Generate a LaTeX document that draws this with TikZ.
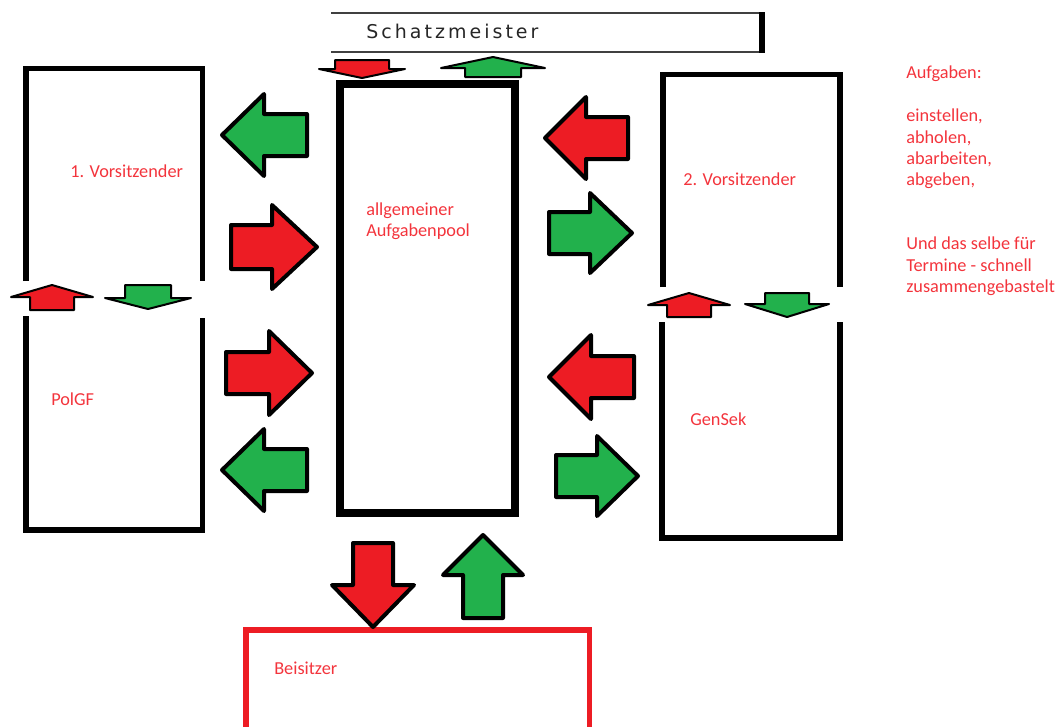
\documentclass[tikz,border=0pt]{standalone}
\usepackage{fontspec}
\usepackage{tikz}
\usepackage{xcolor}
\newfontfamily\calib{Carlito}
\newfontfamily\schatzfont[LetterSpace=16]{DejaVu Sans}
\definecolor{paintred}{RGB}{237,28,36}
\definecolor{paintgreen}{RGB}{34,177,76}
\definecolor{txtred}{RGB}{243,52,60}
\tikzstyle{boxline}=[line width=1.3mm]
\tikzstyle{lbl}=[inner sep=0pt,text=txtred,font=\calib\fontsize{13}{15.2}\selectfont]
\tikzstyle{bigarr}=[draw=black,line width=1mm,line join=round]
\tikzstyle{smallarr}=[draw=black,line width=0.5mm,line join=round]
\tikzset{
  pics/blockarrow/.style n args={4}{code={
    \path[pic actions] (0,0) -- (-#2,#3) -- (-#2,#4) -- (-#1,#4) -- (-#1,-#4)
      -- (-#2,-#4) -- (-#2,-#3) -- cycle;
  }}
}

\begin{document}
\begin{tikzpicture}[x=0.25mm,y=-0.25mm]
    \useasboundingbox (0,0) rectangle (1062,726);

    % Schatzmeister
    \draw[line width=0.35mm,draw=black!75] (331,13) -- (763,13);
    \draw[line width=0.35mm,draw=black!75] (331,52) -- (763,52);
    \draw[line width=1.4mm] (762,12) -- (762,53);
    \node[anchor=west,inner sep=0pt,text=black!85,font=\schatzfont\fontsize{13.5}{15}\selectfont] (schatz) at (366,31) {Schatzmeister};

    % boxes
    \draw[boxline] (26,281) -- (26,68.5) -- (202.5,68.5) -- (202.5,281);
    \draw[boxline] (26,316) -- (26,530) -- (202.5,530) -- (202.5,318);
    \draw[boxline] (663,287) -- (663,74.5) -- (840,74.5) -- (840,287);
    \draw[boxline] (662,322) -- (662,538) -- (840,538) -- (840,322);
    \draw[line width=1.8mm] (340,84) rectangle (515,513);
    \draw[boxline,draw=paintred] (246,730) -- (246,630) -- (589.5,630) -- (589.5,730);

    % labels
    \node[lbl,anchor=west] (vors1) at (70,171) {1. Vorsitzender};
    \node[lbl,anchor=west,align=left] (pool) at (366,221) {allgemeiner\\Aufgabenpool};
    \node[lbl,anchor=west] (vors2) at (683,179) {2. Vorsitzender};
    \node[lbl,anchor=west] (polgf) at (51,399) {PolGF};
    \node[lbl,anchor=west] (gensek) at (690,419) {GenSek};
    \node[lbl,anchor=west] (beisitzer) at (274,668) {Beisitzer};
    \node[lbl,anchor=north west,align=left] (notes) at (906,66) {Aufgaben:\\\mbox{}\\einstellen,\\abholen,\\abarbeiten,\\abgeben,\\\mbox{}\\\mbox{}\\Und das selbe für\\Termine - schnell\\zusammengebastelt};

    % big arrows left
    \path (222,135) pic[bigarr,fill=paintgreen,rotate=180] {blockarrow={85}{42}{41}{21}};
    \path (317,247) pic[bigarr,fill=paintred] {blockarrow={86}{45}{42}{22}};
    \path (312,373) pic[bigarr,fill=paintred] {blockarrow={86}{43}{42}{21}};
    \path (222,470) pic[bigarr,fill=paintgreen,rotate=180] {blockarrow={85}{42}{41}{21}};
    % big arrows right
    \path (545,138) pic[bigarr,fill=paintred,rotate=180] {blockarrow={83}{41}{41}{21}};
    \path (632,233) pic[bigarr,fill=paintgreen] {blockarrow={83}{42}{40}{21}};
    \path (549,377) pic[bigarr,fill=paintred,rotate=180] {blockarrow={85}{42}{42}{21}};
    \path (638,476) pic[bigarr,fill=paintgreen] {blockarrow={82}{41}{40}{21}};
    % big arrows bottom
    \path (373,627) pic[bigarr,fill=paintred,rotate=-90] {blockarrow={84}{42}{41}{20}};
    \path (483,535) pic[bigarr,fill=paintgreen,rotate=90] {blockarrow={83}{40}{40}{20}};

    % small arrows
    \path (362,78) pic[smallarr,fill=paintred,rotate=-90] {blockarrow={18}{9}{43}{27}};
    \path (493,57) pic[smallarr,fill=paintgreen,rotate=90] {blockarrow={20}{11}{52}{28}};
    \path (52,285) pic[smallarr,fill=paintred,rotate=90] {blockarrow={25}{12}{41}{22}};
    \path (148,309) pic[smallarr,fill=paintgreen,rotate=-90] {blockarrow={24}{11}{43}{23}};
    \path (689,293) pic[smallarr,fill=paintred,rotate=90] {blockarrow={24}{12}{41}{22}};
    \path (787,317) pic[smallarr,fill=paintgreen,rotate=-90] {blockarrow={24}{13}{42}{22}};
\end{tikzpicture}
\end{document}
